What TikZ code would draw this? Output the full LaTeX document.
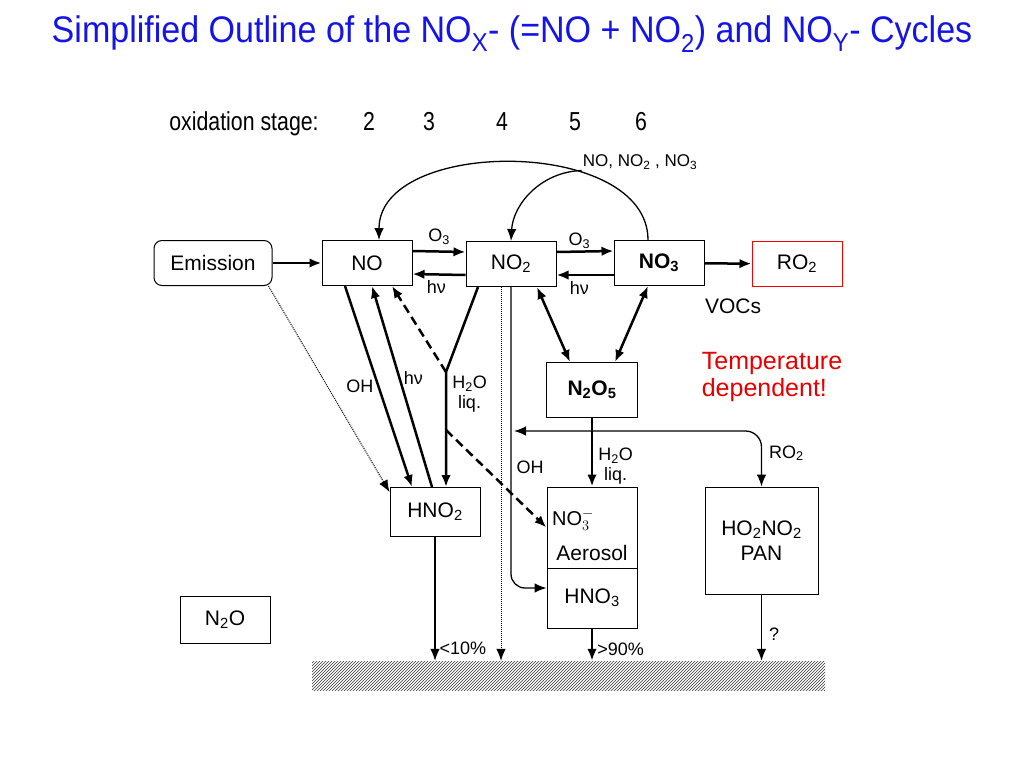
\documentclass[tikz,border=0pt]{standalone}
\usepackage{fontspec}
\setmainfont{Liberation Sans}
\newfontfamily\narrowsf[FakeStretch=0.82]{Liberation Sans}
\newfontfamily\titlesf[FakeStretch=0.92]{Liberation Sans}
\usetikzlibrary{arrows.meta,patterns}
\newcommand{\chsub}[1]{\textsubscript{#1}}
\definecolor{titleblue}{RGB}{20,20,230}
\definecolor{tempred}{RGB}{230,0,0}

\begin{document}
\begin{tikzpicture}[x=1pt,y=-1pt,
    >={Latex[length=12pt,width=9.5pt]},
    species/.style={draw,line width=1pt,minimum width=90,minimum height=45,
      font=\fontsize{21}{25}\selectfont},
    lab/.style={font=\fontsize{18}{20}\selectfont,inner sep=1pt},
    stage/.style={font=\narrowsf\fontsize{26}{28}\selectfont,anchor=base},
    heavy/.style={line width=2.5pt},
    light/.style={line width=1.3pt},
    faint/.style={line width=1pt,densely dotted}]
  \useasboundingbox (0,0) rectangle (1024,768);

  % title and oxidation stages
  \node[text=titleblue,font=\titlesf\fontsize{37}{40}\selectfont] (title) at (512,34)
    {Simplified Outline of the NO\chsub{X}- (=NO + NO\chsub{2}) and NO\chsub{Y}- Cycles};
  \node[stage] (ox) at (244,130) {oxidation stage:};
  \foreach \n/\x in {2/369,3/429,4/502,5/575,6/641}
    \node[stage] (ox\n) at (\x,130) {\n};

  % species
  \node[species,rounded corners=8,minimum width=118] (emis) at (213,263) {Emission};
  \node[species] (no) at (367,263) {NO};
  \node[species] (notwo) at (511,264) {NO\chsub2};
  \node[species] (nothree) at (659,263) {\textbf{NO\chsub3}};
  \node[species,draw=red] (rotwo) at (797,264) {RO\chsub2};
  \node[species,minimum width=91,minimum height=55] (ntwoofive) at (592,390) {\textbf{N\chsub2O\chsub5}};
  \node[species,minimum height=49] (hnotwo) at (435,512) {HNO\chsub2};
  \node[species,minimum height=81] (aero) at (592,527.5) {};
  \node[font=\fontsize{20}{22}\selectfont] (aeroion) at (573,520) {$\mathrm{NO}_3^-$};
  \node[font=\fontsize{21}{25}\selectfont] (aerotxt) at (592,553) {Aerosol};
  \node[species,minimum height=60] (hnothree) at (592,598) {HNO\chsub3};
  \node[species,minimum width=113,minimum height=107,align=center] (pan) at (761.5,540.5)
    {HO\chsub2NO\chsub2\\PAN};
  \node[species,minimum height=47] (ntwoo) at (225,620) {N\chsub2O};
  \node[pattern=north east lines,pattern color=black!80,minimum width=513,minimum height=29,
    inner sep=0pt] (ground) at (568.5,675.5) {};

  % free texts
  \node[font=\fontsize{21}{25}\selectfont] (vocs) at (733,306) {VOCs};
  \node[text=tempred,align=left,font=\fontsize{25}{27}\selectfont] (temp) at (772,377)
    {Temperature\\dependent!};
  \node[font=\fontsize{17}{19}\selectfont,inner sep=1pt] (nolist) at (640,162) {NO, NO\chsub2 , NO\chsub3};

  \coordinate (junc) at (446,372);
  \coordinate (dsplit) at (446,430);
  \coordinate (rosplit) at (514,431);

  % NO - NO2 - NO3 cycle
  \path[->,heavy]
    (emis) edge (no)
    ([yshift=12]no.east) edge node[lab,above=5pt] {O\chsub3} ([yshift=12]notwo.west)
    ([yshift=-11]notwo.west) edge node[lab,below=4pt,pos=0.55] {hν} ([yshift=-11]no.east)
    ([yshift=12]notwo.east) edge node[lab,above=1pt,pos=0.4] {O\chsub3} ([yshift=12]nothree.west)
    ([yshift=-12]nothree.west) edge node[lab,below=4pt,pos=0.6] {hν} ([yshift=-11]notwo.east)
    (nothree) edge (rotwo);
  \draw[->,light] ([xshift=-11]nothree.north) .. controls (648,137) and (379,137) .. ([xshift=12]no.north);
  \draw[->,light] (nolist.south west) .. controls (540,172) and (513,205) .. (notwo.north);

  % towards HNO2
  \path[->,heavy]
    ([xshift=-22]no.south) edge node[lab,left=3pt,pos=0.5] {OH} ([xshift=-23]hnotwo.north)
    ([xshift=-3]hnotwo.north) edge node[lab,right=2pt,pos=0.54] {hν} ([xshift=5]no.south);
  \draw[->,heavy] ([xshift=-33]notwo.south) -- (junc)
    -- node[lab,right=4pt,pos=0.19,align=center] {H\chsub2O\\liq.} (junc |- hnotwo.north);
  \draw[->,heavy,dash pattern=on 9pt off 5pt] (junc) -- ([xshift=25]no.south);
  \draw[->,heavy,dash pattern=on 9pt off 5pt] (dsplit) -- (aero.west);
  \draw[->,faint] ([xshift=-4]emis.south east) -- ([yshift=-5]hnotwo.north west);

  % NO2, NO3 and N2O5
  \path[<->,heavy]
    ([xshift=26]notwo.south) edge ([xshift=-22]ntwoofive.north)
    ([xshift=-11]nothree.south) edge ([xshift=23]ntwoofive.north);
  \draw[->,heavy] (ntwoofive) -- node[lab,right=4pt,pos=0.7,align=center] {H\chsub2O\\liq.} (aero);
  \draw[->,light,rounded corners=14] (notwo.south) |- node[lab,right=4pt,pos=0.3] {OH} ([yshift=10]hnothree.west);
  \draw[<->,light,rounded corners=16] (rosplit) -| node[lab,right=6pt,pos=0.7] {RO\chsub2} (pan.north);

  % deposition
  \draw[->,faint] ([xshift=-10]notwo.south) -- ([xshift=-10]notwo.south |- ground.north);
  \draw[->,light] (hnotwo.south) -- node[lab,right=3pt,pos=0.9] {<10\%} (hnotwo.south |- ground.north);
  \draw[->,heavy] (hnothree.south) -- node[lab,right=3pt,pos=0.65] {>90\%} (hnothree.south |- ground.north);
  \draw[->,light] (pan.south) -- node[lab,right=6pt,pos=0.6] {?} (pan.south |- ground.north);
\end{tikzpicture}
\end{document}
